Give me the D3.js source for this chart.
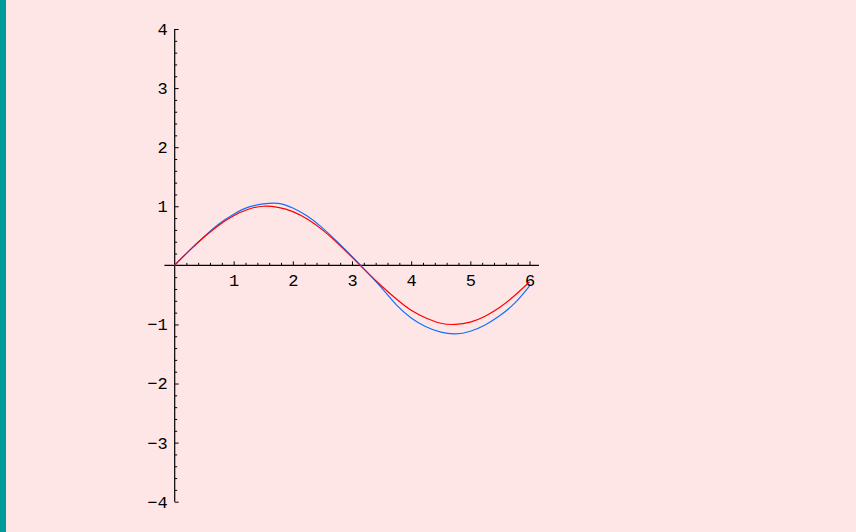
<!DOCTYPE html>
<html>
<head>
<meta charset="utf-8">
<script src="https://cdn.jsdelivr.net/npm/d3@7"></script>
<style>
  html, body { margin: 0; padding: 0; background: #ffe6e6; overflow: hidden; }
  svg { display: block; }
  .tick text { font-family: "Liberation Mono", "DejaVu Sans Mono", monospace; font-size: 17px; fill: #000; }
</style>
</head>
<body>
<div id="plot"></div>
<script>
// Canvas Dimensions:
const svgWidth = 856;
const svgHeight = 532;

// sample positions along x (read every 0.25)
const xValues = [0, 0.25, 0.5, 0.75, 1, 1.25, 1.5, 1.75, 2, 2.25, 2.5, 2.75, 3,
                 3.25, 3.5, 3.75, 4, 4.25, 4.5, 4.75, 5, 5.25, 5.5, 5.75, 6];

// red curve
const redValues = [0, 0.25, 0.48, 0.68, 0.84, 0.95, 1.0, 0.98, 0.91, 0.78, 0.6, 0.38, 0.14,
                   -0.11, -0.35, -0.57, -0.76, -0.89, -0.98, -1.0, -0.96, -0.86, -0.71, -0.51, -0.28];

// blue curve
const blueValues = [0, 0.25, 0.485, 0.70, 0.865, 0.985, 1.04, 1.05, 0.97, 0.83, 0.635, 0.40, 0.15,
                    -0.11, -0.38, -0.67, -0.89, -1.04, -1.13, -1.16, -1.115, -1.01, -0.85, -0.64, -0.35];

// tick labels
const xTicks = [1, 2, 3, 4, 5, 6];
const yTicks = [-4, -3, -2, -1, 1, 2, 3, 4];

// SVG Wrapper:
let svg = d3.select('#plot')
            .append('svg')
            .attr('width', svgWidth)
            .attr('height', svgHeight);

svg.append('rect')
   .attr('width', svgWidth)
   .attr('height', svgHeight)
   .attr('fill', '#ffe6e6');

// teal strip on the left edge
svg.append('rect')
   .attr('x', 0)
   .attr('y', 0)
   .attr('width', 6)
   .attr('height', svgHeight)
   .attr('fill', '#009a9a');

// scales:
let xScale = d3.scaleLinear().domain([0, 6]).range([174.5, 529.5]);
let yScale = d3.scaleLinear().domain([-4, 4]).range([501.7, 29]);

// minor tick positions (every 0.2, integers left out)
const minorX = d3.range(1, 31).map(i => i / 5).filter(v => Math.abs(v - Math.round(v)) > 1e-6);
const minorY = d3.range(-20, 21).map(i => i / 5).filter(v => Math.abs(v - Math.round(v)) > 1e-6);

const fmt = v => (v < 0 ? '\u2212' + Math.abs(v) : '' + v);

// x axis line (runs a little past the data on both sides)
svg.append('line')
   .attr('x1', xScale(-0.17)).attr('x2', xScale(6.16))
   .attr('y1', yScale(0)).attr('y2', yScale(0))
   .attr('stroke', '#000').attr('stroke-width', 1.2);

// x minor ticks
svg.append('g')
   .attr('transform', `translate(0, ${yScale(0)})`)
   .call(d3.axisBottom(xScale).tickValues(minorX).tickSize(-2.5).tickFormat(''))
   .call(g => g.select('.domain').remove())
   .call(g => g.selectAll('line').attr('stroke-width', 1));

// x major ticks + labels
svg.append('g')
   .attr('transform', `translate(0, ${yScale(0)})`)
   .call(d3.axisBottom(xScale).tickValues(xTicks).tickSize(-4).tickPadding(9).tickFormat(fmt))
   .call(g => g.select('.domain').remove())
   .call(g => g.selectAll('line').attr('stroke-width', 1));

// y axis line
svg.append('line')
   .attr('x1', 174.7).attr('x2', 174.7)
   .attr('y1', yScale(-4)).attr('y2', yScale(4))
   .attr('stroke', '#000').attr('stroke-width', 1.2);

// y minor ticks
svg.append('g')
   .attr('transform', 'translate(174.7, 0)')
   .call(d3.axisLeft(yScale).tickValues(minorY).tickSize(-2.5).tickFormat(''))
   .call(g => g.select('.domain').remove())
   .call(g => g.selectAll('line').attr('stroke-width', 1));

// y major ticks + labels
svg.append('g')
   .attr('transform', 'translate(174.7, 0)')
   .call(d3.axisLeft(yScale).tickValues(yTicks).tickSize(-4).tickPadding(7).tickFormat(fmt))
   .call(g => g.select('.domain').remove())
   .call(g => g.selectAll('line').attr('stroke-width', 1));

// curves:
let lineGen = d3.line()
                .x(d => xScale(d[0]))
                .y(d => yScale(d[1]))
                .curve(d3.curveNatural);

svg.append('path')
   .datum(xValues.map((x, i) => [x, blueValues[i]]))
   .attr('d', lineGen)
   .attr('fill', 'none')
   .attr('stroke', '#1070ff')
   .attr('stroke-width', 1.2);

svg.append('path')
   .datum(xValues.map((x, i) => [x, redValues[i]]))
   .attr('d', lineGen)
   .attr('fill', 'none')
   .attr('stroke', '#ff0000')
   .attr('stroke-width', 1.2);
</script>
</body>
</html>
